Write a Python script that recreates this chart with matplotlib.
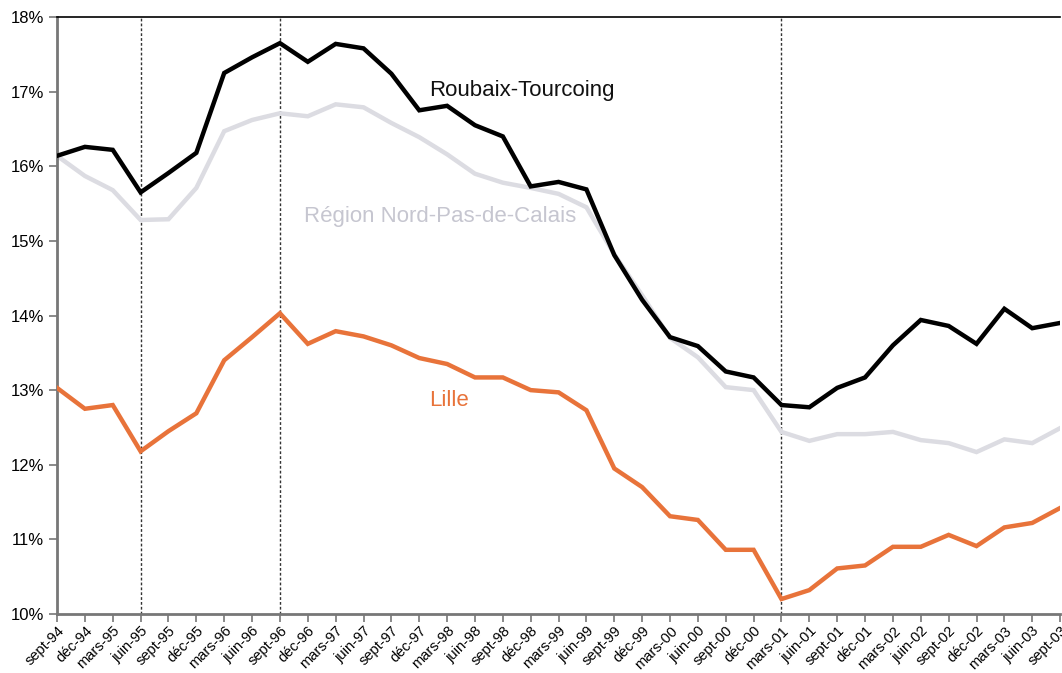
import matplotlib
matplotlib.use('Agg')
import matplotlib.pyplot as plt

plt.rcParams['font.family'] = ['Liberation Sans', 'DejaVu Sans']

# quarterly labels, sept-94 .. sept-03
months = ['sept', 'déc', 'mars', 'juin']
labels = []
year = 94
for i in range(37):
    m = months[i % 4]
    if m == 'mars':
        year += 1
    labels.append(f'{m}-{year % 100:02d}')

roubaix = [16.14, 16.26, 16.22, 15.65, 15.91, 16.18, 17.25, 17.46, 17.65, 17.40,
           17.64, 17.58, 17.24, 16.75, 16.81, 16.55, 16.40, 15.73, 15.79, 15.69,
           14.81, 14.21, 13.71, 13.59, 13.25, 13.17, 12.80, 12.77, 13.03, 13.17,
           13.60, 13.94, 13.86, 13.62, 14.09, 13.83, 13.90]
region = [16.14, 15.87, 15.68, 15.28, 15.29, 15.71, 16.47, 16.62, 16.71, 16.67,
          16.83, 16.79, 16.58, 16.39, 16.16, 15.90, 15.78, 15.71, 15.63, 15.45,
          14.82, 14.27, 13.70, 13.44, 13.04, 13.00, 12.44, 12.32, 12.41, 12.41,
          12.44, 12.33, 12.29, 12.17, 12.34, 12.29, 12.49]
lille = [13.03, 12.75, 12.80, 12.18, 12.45, 12.69, 13.40, 13.71, 14.03, 13.62,
         13.79, 13.72, 13.60, 13.43, 13.35, 13.17, 13.17, 13.00, 12.97, 12.73,
         11.95, 11.70, 11.31, 11.26, 10.86, 10.86, 10.20, 10.32, 10.61, 10.65,
         10.90, 10.90, 11.06, 10.91, 11.16, 11.22, 11.42]
markers_at = ['juin-95', 'sept-96', 'mars-01']

x = list(range(len(labels)))

fig = plt.figure(figsize=(10.62, 6.73), dpi=100)
ax = fig.add_axes([0.0537, 0.0877, 0.9445, 0.887])

for m in markers_at:
    ax.axvline(labels.index(m), color='#333333', lw=1.0, ls=(0, (2, 1.5)), zorder=1)

ax.plot(x, region, color='#dcdce2', lw=3.2, solid_joinstyle='miter', zorder=2)
ax.plot(x, roubaix, color='black', lw=3.2, solid_joinstyle='miter', zorder=3)
ax.plot(x, lille, color='#e8733a', lw=3.2, solid_joinstyle='miter', zorder=3)

ax.text(13.35, 17.02, 'Roubaix-Tourcoing', fontsize=16, color='#111111', va='center')
ax.text(8.85, 15.33, 'Région Nord-Pas-de-Calais', fontsize=16, color='#c6c6d0', va='center')
ax.text(13.35, 12.86, 'Lille', fontsize=16, color='#e8733a', va='center')

ax.set_xlim(0, 36)
ax.set_ylim(10, 18)
ax.set_yticks(range(10, 19))
ax.set_yticklabels([f'{v}%' for v in range(10, 19)], fontsize=12)
ax.set_xticks(x)
ax.set_xticklabels(labels, rotation=45, ha='right', rotation_mode='anchor', fontsize=10.5)

for side in ['left', 'bottom']:
    ax.spines[side].set_color('#777777')
    ax.spines[side].set_linewidth(2)
ax.spines['top'].set_color('black')
ax.spines['top'].set_linewidth(1.2)
ax.spines['right'].set_visible(False)
ax.tick_params(axis='both', colors='#777777', labelcolor='black', length=6, width=1.2)
ax.tick_params(axis='x', pad=1)

fig.savefig('out.png', dpi=100)
